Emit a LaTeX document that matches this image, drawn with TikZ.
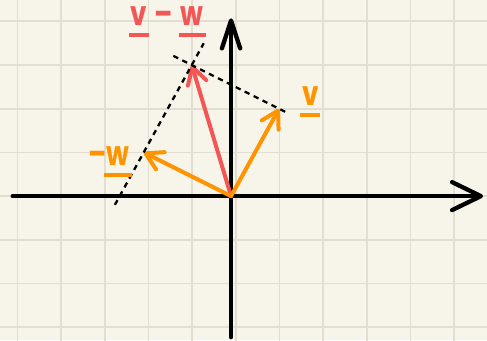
\documentclass[tikz,border=0pt]{standalone}
\usepackage{fontspec}
\setmainfont{Poppins}
\usetikzlibrary{arrows.meta,positioning,calc}
\definecolor{paper}{RGB}{247,245,233}
\definecolor{gridgray}{RGB}{226,223,210}
\definecolor{vecorange}{RGB}{255,148,0}
\definecolor{vecred}{RGB}{244,86,86}
% letter with a thick bar under it
\newcommand{\uvec}[1]{\setbox0=\hbox{#1}\vtop{\offinterlineskip\copy0\kern5pt\hbox to\wd0{\hss\rule{1.2\wd0}{2.8pt}\hss}}}

\begin{document}
\begin{tikzpicture}[
    xaxis/.style={line width=2.8pt, line cap=round, -{Straight Barb[length=0.66cm,width=0.64cm,round]}},
    yaxis/.style={line width=2.8pt, line cap=round, -{Straight Barb[length=0.64cm,width=0.42cm,round]}},
    vec/.style={line width=2.6pt, line cap=round, -{Straight Barb[length=0.38cm,width=0.44cm,round]}},
    helper/.style={line width=1.5pt, dash pattern=on 3.5pt off 3pt},
    lbl/.style={inner sep=0pt, anchor=base west, xscale=0.78, transform shape,
                font=\bfseries\fontsize{22}{26}\selectfont}
]
    % paper
    \fill[paper] (-5.29,-3.3) rectangle (5.86,4.49);
    \useasboundingbox (-5.29,-3.3) rectangle (5.86,4.49);
    \draw[gridgray, line width=1.2pt, xshift=0.11cm] (-5.5,-3.5) grid (5.9,4.6);
    % axes
    \coordinate (O) at (0,0);
    \coordinate (xl) at (-5.0,0);
    \coordinate (xr) at (5.77,0);
    \coordinate (yb) at (0,-3.23);
    \coordinate (yt) at (0,4.07);
    \draw[xaxis] (xl) -- (xr);
    \draw[yaxis] (yb) -- (yt);
    % vectors
    \coordinate (v) at (1.1,2);
    \coordinate (mw) at (-2,1);
    \coordinate (vmw) at ($(v)+(mw)$);
    \draw[vec, vecred] (O) -- (vmw);
    \draw[vec, vecorange] (O) -- (v);
    \draw[vec, vecorange] (O) -- (mw);
    % parallelogram sides
    \draw[helper] ($(v)!-0.07!(vmw)$) -- ($(vmw)!-0.23!(v)$);
    \draw[helper] ($(mw)!-0.6!(vmw)$) -- ($(vmw)!-0.25!(mw)$);
    % labels
    \node[lbl, vecorange] (vlabel) at (1.62,2.08) {\uvec{v}};
    \node[lbl, vecorange] (mwlabel) at (-3.27,0.71) {--\uvec{w}};
    \node[lbl, vecred] (vmwlabel) at (-2.31,3.91) {\uvec{v}\hspace{0.3em}--\hspace{0.3em}\uvec{w}};
\end{tikzpicture}
\end{document}
